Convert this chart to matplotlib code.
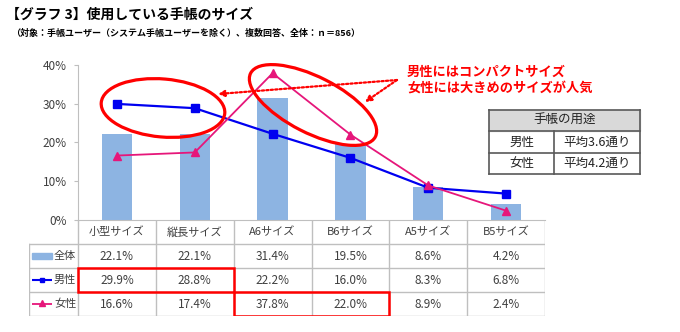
import matplotlib
matplotlib.use("Agg")
import matplotlib.pyplot as plt
from matplotlib.patches import Ellipse, Rectangle, FancyArrowPatch
from matplotlib.lines import Line2D

plt.rcParams['font.family'] = ['Noto Sans CJK JP', 'DejaVu Sans']

# data
categories = ["小型サイズ", "縦長サイズ", "A6サイズ", "B6サイズ", "A5サイズ", "B5サイズ"]
overall = [22.1, 22.1, 31.4, 19.5, 8.6, 4.2]
male = [29.9, 28.8, 22.2, 16.0, 8.3, 6.8]
female = [16.6, 17.4, 37.8, 22.0, 8.9, 2.4]
series_names = ["全体", "男性", "女性"]
usage_rows = [("男性", "平均3.6通り"), ("女性", "平均4.2通り")]

bar_col = '#8DB4E2'
blue = '#0000F0'
pink = '#E6167A'
red = '#FF0000'
grid_col = '#BFBFBF'
txt_col = '#404040'

W, H = 680, 332
fig = plt.figure(figsize=(W / 100, H / 100), dpi=100)

def box(x0, y0, x1, y1):
    # pixel box (top-left origin) -> figure fraction rect
    return [x0 / W, 1 - y1 / H, (x1 - x0) / W, (y1 - y0) / H]

def inch(px, py):
    return (px / 100, (H - py) / 100)

# main chart
ax = fig.add_axes(box(78, 64.7, 545, 220))
x = list(range(len(categories)))
ax.bar(x, overall, width=0.39, color=bar_col, zorder=1)
ax.plot(x, male, color=blue, lw=1.6, marker='s', ms=5.5, zorder=3)
ax.plot(x, female, color=pink, lw=1.3, marker='^', ms=6, zorder=3)
ax.set_xlim(-0.5, len(categories) - 0.5)
ax.set_ylim(0, 40)
ax.set_yticks([0, 10, 20, 30, 40])
ax.set_yticklabels([f"{v}%" for v in [0, 10, 20, 30, 40]], fontsize=8.5, color=txt_col)
ax.tick_params(axis='y', length=3, color=grid_col, pad=5)
ax.set_xticks([])
for s in ['top', 'right']:
    ax.spines[s].set_visible(False)
ax.spines['left'].set_color(grid_col)
ax.spines['bottom'].set_color(grid_col)

# data table below the chart
n = len(categories)
lab_w = 49 / ((545 - 78) / n)
tab = fig.add_axes(box(29, 220, 545, 316))
x0 = -0.5 - lab_w
tab.set_xlim(x0, n - 0.5)
tab.set_ylim(4, 0)
tab.axis('off')
for i in range(n + 1):
    tab.plot([i - 0.5, i - 0.5], [0, 4], color=grid_col, lw=1)
tab.plot([x0, x0], [1, 4], color=grid_col, lw=1)
for r in range(1, 5):
    tab.plot([x0, n - 0.5], [r, r], color=grid_col, lw=1)
for i, c in enumerate(categories):
    tab.text(i, 0.5, c, ha='center', va='center', fontsize=8, color=txt_col)
for r, vals in enumerate([overall, male, female], start=1):
    for i, v in enumerate(vals):
        tab.text(i, r + 0.5, f"{v:.1f}%", ha='center', va='center', fontsize=8.5, color=txt_col)

# row labels with legend keys
def px2tab(px):
    return x0 + (px - 29) / ((545 - 78) / n)

kx0, kx1, lx = px2tab(32), px2tab(52), px2tab(54)
tab.add_patch(Rectangle((kx0, 1.39), kx1 - kx0, 0.24, color=bar_col))
tab.plot([kx0, kx1], [2.5, 2.5], color=blue, lw=1.5, solid_capstyle='butt')
tab.plot([(kx0 + kx1) / 2], [2.5], color=blue, marker='s', ms=3.5)
tab.plot([kx0, kx1], [3.5, 3.5], color=pink, lw=1.3, solid_capstyle='butt')
tab.plot([(kx0 + kx1) / 2], [3.45], color=pink, marker='^', ms=4)
for r, name in enumerate(series_names, start=1):
    tab.text(lx, r + 0.5, name, ha='left', va='center', fontsize=8, color=txt_col)

# red highlight boxes in the table
tab.add_patch(Rectangle((-0.5, 2), 2, 1, fill=False, ec=red, lw=1.8, zorder=5))
tab.add_patch(Rectangle((1.5, 3), 2, 1, fill=False, ec=red, lw=1.8, zorder=5))

# titles
fig.text(6 / W, 1 - 15 / H, "【グラフ 3】使用している手帳のサイズ", fontsize=10,
         fontweight='bold', va='center', ha='left')
fig.text(11 / W, 1 - 33 / H,
         "（対象：手帳ユーザー（システム手帳ユーザーを除く）、複数回答、全体：ｎ＝856）",
         fontsize=6.5, fontweight='bold', va='center', ha='left')

# callout ellipses and arrows
tr = fig.dpi_scale_trans
e1 = Ellipse(inch(163, 108), 124 / 100, 58 / 100, angle=-5, fill=False, ec=red, lw=2.3,
             transform=tr, zorder=6)
e2 = Ellipse(inch(313, 105), 140 / 100, 56 / 100, angle=-27, fill=False, ec=red, lw=2.3,
             transform=tr, zorder=6)
fig.add_artist(e1)
fig.add_artist(e2)
for tgt in [(218, 94), (365, 102)]:
    arr = FancyArrowPatch(inch(397, 80), inch(*tgt), transform=tr, arrowstyle='-|>',
                          mutation_scale=9, color=red, lw=1.6, linestyle=(0, (1, 1)),
                          shrinkA=0, shrinkB=0)
    fig.add_artist(arr)

fig.text(407 / W, 1 - 72 / H, "男性にはコンパクトサイズ", fontsize=9.5, fontweight='bold',
         color=red, va='center', ha='left')
fig.text(407 / W, 1 - 88 / H, "女性には大きめのサイズが人気", fontsize=9.5, fontweight='bold',
         color=red, va='center', ha='left')

# usage table (top right)
ux0, ux1, umid = 489, 640, 554
uy = [110, 131, 153, 174]
fig.add_artist(Rectangle(inch(ux0, uy[1]), (ux1 - ux0) / 100, (uy[1] - uy[0]) / 100,
                         transform=tr, color='#D9D9D9', zorder=1))
border = '#595959'
for y in uy:
    fig.add_artist(Line2D([ux0 / 100, ux1 / 100], [(H - y) / 100] * 2, transform=tr,
                          color=border, lw=1.2))
for xx in [ux0, ux1]:
    fig.add_artist(Line2D([xx / 100] * 2, [(H - uy[0]) / 100, (H - uy[3]) / 100],
                          transform=tr, color=border, lw=1.2))
fig.add_artist(Line2D([umid / 100] * 2, [(H - uy[1]) / 100, (H - uy[3]) / 100],
                      transform=tr, color=border, lw=1.2))
fig.text((ux0 + ux1) / 2 / W, 1 - (uy[0] + uy[1]) / 2 / H, "手帳の用途", fontsize=9,
         ha='center', va='center', color='#222222')
for k, (g, v) in enumerate(usage_rows):
    yc = 1 - (uy[k + 1] + uy[k + 2]) / 2 / H
    fig.text((ux0 + umid) / 2 / W, yc, g, fontsize=9, ha='center', va='center', color='#222222')
    fig.text((umid + ux1) / 2 / W, yc, v, fontsize=9, ha='center', va='center', color='#222222')

fig.savefig("out.png", dpi=100)
